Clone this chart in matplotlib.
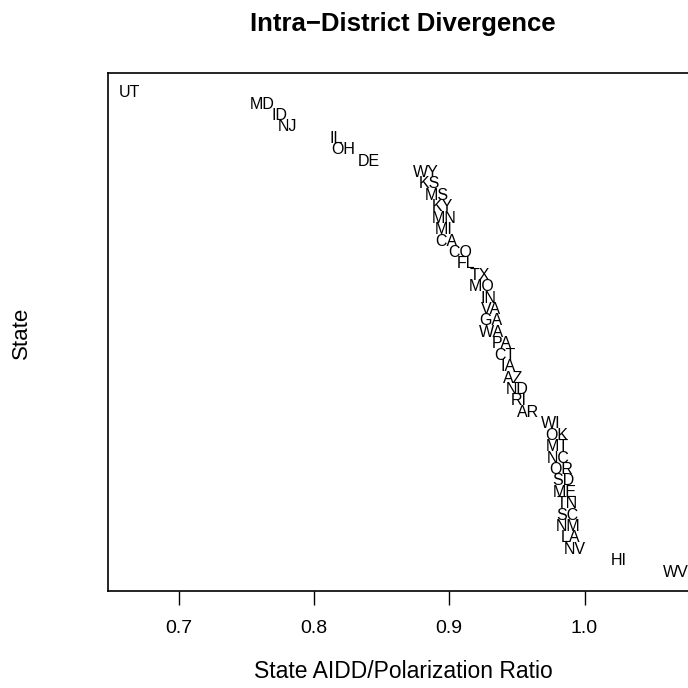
import matplotlib
matplotlib.use("Agg")
import matplotlib.pyplot as plt
import numpy as np

plt.rcParams['font.family'] = ['Liberation Sans', 'DejaVu Sans']

# states ordered top to bottom, with their AIDD/polarization ratio
states = ['UT', 'MD', 'ID', 'NJ', 'IL', 'OH', 'DE', 'WY', 'KS', 'MS',
          'KY', 'MN', 'MI', 'CA', 'CO', 'FL', 'TX', 'MO', 'IN', 'VA',
          'GA', 'WA', 'PA', 'CT', 'IA', 'AZ', 'ND', 'RI', 'AR', 'WI',
          'OK', 'MT', 'NC', 'OR', 'SD', 'ME', 'TN', 'SC', 'NM', 'LA',
          'NV', 'HI', 'WV']
ratio = [0.6640, 0.7618, 0.7743, 0.7805, 0.8167, 0.8216, 0.8406, 0.8825, 0.8852, 0.8911,
         0.8948, 0.8960, 0.8962, 0.8977, 0.9079, 0.9123, 0.9227, 0.9239, 0.9288, 0.9306,
         0.9310, 0.9313, 0.9387, 0.9411, 0.9436, 0.9473, 0.9502, 0.9517, 0.9586, 0.9749,
         0.9792, 0.9797, 0.9805, 0.9830, 0.9845, 0.9855, 0.9872, 0.9877, 0.9879, 0.9894,
         0.9927, 1.0252, 1.0677]
xticks = [0.7, 0.8, 0.9, 1.0]

rank = np.arange(1, len(states) + 1)

fig = plt.figure(figsize=(6.88, 6.88), dpi=100)
ax = fig.add_axes([108 / 688, 1 - 591.4 / 688, 590 / 688, 518 / 688])

for s, x, y in zip(states, ratio, rank):
    ax.text(x, y, s, ha='center', va='center', fontsize=11.5)

# R style 4% padding
xr = max(ratio) - min(ratio)
ax.set_xlim(min(ratio) - 0.04 * xr, max(ratio) + 0.04 * xr)
yr = len(states) - 1
ax.set_ylim(len(states) + 0.04 * yr, 1 - 0.04 * yr)

ax.set_xticks(xticks)
ax.set_xticklabels([f'{t:.1f}' for t in xticks])
ax.set_yticks([])
ax.tick_params(axis='x', length=10, width=1, pad=10.4, labelsize=14)
for sp in ax.spines.values():
    sp.set_linewidth(1.2)

fig.text(403 / 688, 1 - 24 / 688, 'Intra\u2212District Divergence',
         ha='center', va='center', fontsize=18.5, fontweight='bold')
ax.set_xlabel('State AIDD/Polarization Ratio', fontsize=16.5, va='center')
ax.xaxis.set_label_coords(0.5, -0.1537)
ax.set_ylabel('State', fontsize=16, va='center')
ax.yaxis.set_label_coords(-0.1475, 0.5)

fig.savefig('out.png', dpi=100)
